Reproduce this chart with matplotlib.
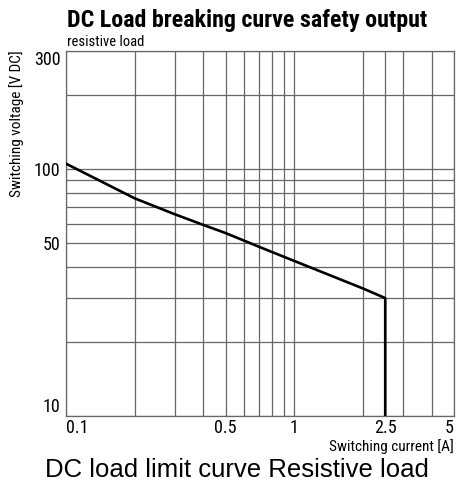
import matplotlib
matplotlib.use("Agg")
import matplotlib.pyplot as plt
from matplotlib.ticker import LogLocator, NullFormatter, FixedLocator, FixedFormatter

# curve (log-log)
current = [0.1, 0.2, 0.3, 0.4, 0.5, 0.7, 1.0, 2.0, 2.5, 2.5]
voltage = [105, 76, 65.5, 59.3, 55, 48.4, 42.4, 32.8, 30, 10]

x_ticks = [0.1, 0.5, 1, 2.5, 5]
x_labels = ["0.1", "0.5", "1", "2.5", "5"]
y_ticks = [10, 50, 100, 300]
y_labels = ["10", "50", "100", "300"]

narrow = ["Roboto Condensed", "DejaVu Sans"]

fig = plt.figure(figsize=(4.64, 4.82), dpi=100)
ax = fig.add_axes([0.1422, 0.1369, 0.8362, 0.7573])

ax.set_xscale("log")
ax.set_yscale("log")
ax.set_xlim(0.1, 5)
ax.set_ylim(10, 300)

ax.plot(current, voltage, color="black", lw=1.9, solid_joinstyle="round", zorder=3)

ax.xaxis.set_major_locator(FixedLocator(x_ticks))
ax.xaxis.set_major_formatter(FixedFormatter(x_labels))
ax.yaxis.set_major_locator(FixedLocator(y_ticks))
ax.yaxis.set_major_formatter(FixedFormatter(y_labels))
ax.xaxis.set_minor_locator(LogLocator(base=10, subs=range(1, 10), numticks=20))
ax.yaxis.set_minor_locator(LogLocator(base=10, subs=range(1, 10), numticks=20))
ax.xaxis.set_minor_formatter(NullFormatter())
ax.yaxis.set_minor_formatter(NullFormatter())
ax.tick_params(which="both", length=0)
ax.tick_params(axis="x", pad=2)
ax.tick_params(axis="y", pad=4)

ax.grid(which="both", color="#666666", lw=0.9)
for s in ax.spines.values():
    s.set_color("#666666")
    s.set_linewidth(0.9)

for lab in ax.get_xticklabels():
    lab.set_fontfamily(narrow)
    lab.set_fontsize(13)
xl = ax.get_xticklabels()
xl[0].set_horizontalalignment("left")
xl[-1].set_horizontalalignment("right")

for lab in ax.get_yticklabels():
    lab.set_fontfamily(narrow)
    lab.set_fontsize(13)
yl = ax.get_yticklabels()
yl[0].set_verticalalignment("bottom")
yl[-1].set_verticalalignment("top")

ax.set_ylabel("Switching voltage [V DC]", fontsize=11, family=narrow)
ax.yaxis.set_label_coords(-0.107, 0.80)

fig.text(0.9784, 0.065, "Switching current [A]", ha="right", va="baseline",
         fontsize=11, family=narrow)

fig.text(0.144, 0.958, "DC Load breaking curve safety output", ha="left", va="center",
         fontsize=17.3, fontweight="bold", family=narrow)
fig.text(0.144, 0.913, "resistive load", ha="left", va="center",
         fontsize=10.5, family=narrow)

fig.text(0.097, 0.011, "DC load limit curve Resistive load", ha="left", va="baseline",
         fontsize=18.5, family=["Liberation Sans", "DejaVu Sans"])

fig.savefig("out.png", dpi=100)
